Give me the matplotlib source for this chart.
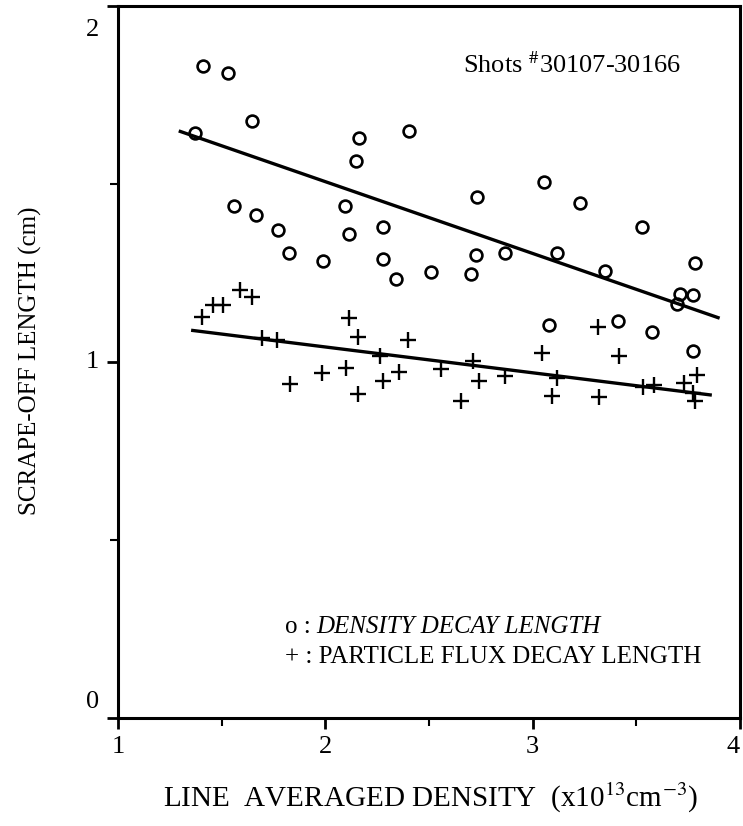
import matplotlib.pyplot as plt
from matplotlib.ticker import MultipleLocator
from matplotlib.transforms import offset_copy

plt.rcParams['font.family'] = ['Liberation Serif', 'DejaVu Serif']
plt.rcParams['mathtext.fontset'] = 'stix'

# density decay length (circles)
dens_x = [1.41, 1.53, 1.645, 1.37, 2.164, 2.404, 2.148, 1.56, 1.666, 1.773, 2.096, 2.116,
          2.28, 1.826, 1.99, 2.276, 2.341, 3.055, 2.733, 3.229, 3.526, 2.51, 2.727, 2.864,
          2.703, 3.116, 3.349, 3.783, 3.711, 3.772, 3.698, 3.079, 3.409, 3.577, 3.772]
dens_y = [1.832, 1.811, 1.675, 1.644, 1.63, 1.647, 1.563, 1.439, 1.413, 1.369, 1.439, 1.359,
          1.378, 1.305, 1.282, 1.288, 1.233, 1.504, 1.464, 1.447, 1.38, 1.252, 1.301, 1.305,
          1.246, 1.305, 1.254, 1.277, 1.19, 1.188, 1.163, 1.102, 1.115, 1.085, 1.029]

# particle flux decay length (crosses)
flux_x = [1.404, 1.457, 1.508, 1.589, 1.645, 1.693, 1.766, 1.83, 1.983, 2.1, 2.116, 2.159,
          2.156, 2.264, 2.277, 2.357, 2.398, 2.558, 2.711, 2.743, 2.867, 2.655, 3.044, 3.314,
          3.092, 3.116, 3.322, 3.417, 3.531, 3.586, 3.73, 3.792, 3.772, 3.783]
flux_y = [1.126, 1.159, 1.159, 1.202, 1.183, 1.067, 1.062, 0.938, 0.968, 0.982, 1.124, 1.069,
          0.91, 1.017, 0.947, 0.971, 1.06, 0.979, 1.001, 0.945, 0.959, 0.89, 1.026, 1.099,
          0.904, 0.954, 0.901, 1.015, 0.929, 0.935, 0.94, 0.963, 0.912, 0.891]

# fitted lines (end points)
fit_dens_x = [1.30, 3.894]
fit_dens_y = [1.647, 1.124]
fit_flux_x = [1.36, 3.856]
fit_flux_y = [1.088, 0.907]

x_ticks = [1, 2, 3, 4]
y_ticks = [0, 1, 2]

fig = plt.figure(figsize=(7.43, 8.26), dpi=100)
ax = fig.add_axes([0.159, 0.131, 0.837, 0.862])

ax.plot(dens_x, dens_y, 'o', mfc='none', mec='black', ms=8.5, mew=1.9)
ax.plot(flux_x, flux_y, '+', color='black', ms=12, mew=1.7)
ax.plot(fit_dens_x, fit_dens_y, color='black', lw=2.4)
ax.plot(fit_flux_x, fit_flux_y, color='black', lw=2.4)

ax.set_xlim(1, 4)
ax.set_ylim(0, 2)
ax.set_xticks(x_ticks)
ax.set_yticks(y_ticks)
ax.xaxis.set_minor_locator(MultipleLocator(0.5))
ax.yaxis.set_minor_locator(MultipleLocator(0.5))
ax.tick_params(which='major', direction='out', length=8, width=2,
               labelleft=False, labelbottom=False)
ax.tick_params(which='minor', direction='out', length=6, width=1.5)
for s in ax.spines.values():
    s.set_linewidth(2.2)

# tick labels drawn by hand so the end ones stay inside the picture
xtr = offset_copy(ax.get_xaxis_transform(), fig=fig, x=0, y=-29, units='dots')
for v in x_ticks:
    ax.text(v, 0, str(v), transform=xtr, fontsize=19, ha='right' if v == x_ticks[-1] else 'center',
            va='center')
ytr = offset_copy(ax.get_yaxis_transform(), fig=fig, x=-26, y=0, units='dots')
for v in y_ticks:
    dy = {0: 16, 2: -24}.get(v, 0)
    ax.text(0, v, str(v), transform=offset_copy(ytr, fig=fig, x=0, y=dy, units='dots'),
            fontsize=19, ha='center', va='center')

ax.text(2.665, 1.834, r'Shots $^{\#}$30107-30166', fontsize=19, va='center', ha='left')
ax.text(0.269, 0.127, 'o :', transform=ax.transAxes, fontsize=18, va='center', ha='left')
ax.text(0.318, 0.127, 'DENSITY DECAY LENGTH', transform=ax.transAxes, fontsize=18,
        va='center', ha='left', style='italic')
ax.text(0.269, 0.085, '+ : PARTICLE FLUX DECAY LENGTH', transform=ax.transAxes,
        fontsize=18, va='center', ha='left')

fig.text(430 / 743, 1 - 798 / 826, r'LINE  AVERAGED DENSITY  (x10$^{13}$cm$^{-3}$)',
         fontsize=21, ha='center', va='center')
fig.text(30 / 743, 1 - 361 / 826, 'SCRAPE-OFF LENGTH (cm)', fontsize=18,
         rotation=90, ha='center', va='center')

fig.savefig('out.png', dpi=100)
